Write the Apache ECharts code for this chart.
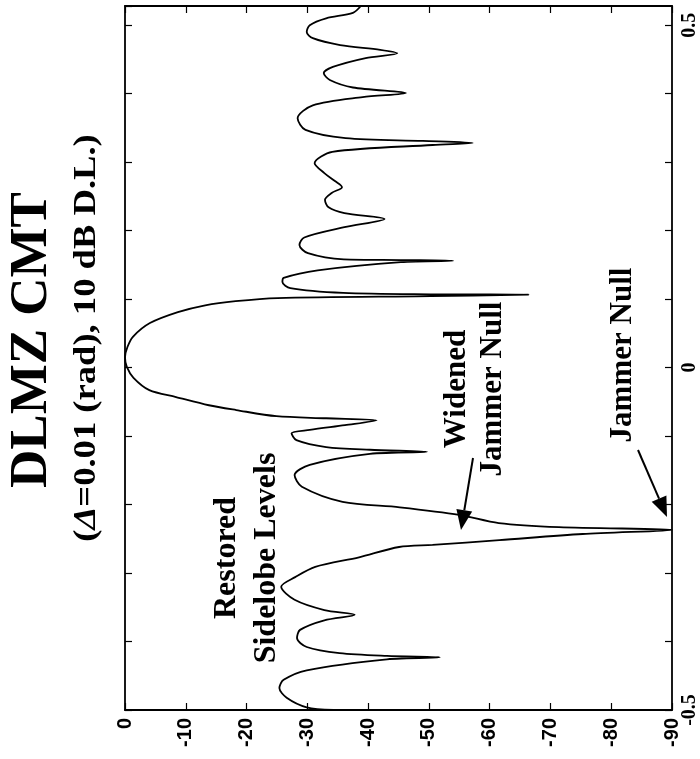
<!DOCTYPE html>
<html><head><meta charset="utf-8">
<script src="https://cdn.jsdelivr.net/npm/echarts/dist/echarts.min.js"></script>
<style>html,body{margin:0;padding:0;background:#fff}#c{width:700px;height:759px}</style>
</head><body><div id="c"></div>
<script>
// sin(angle) values (u) and pattern level (dB)
const uValues = [0.528,0.518,0.510,0.500,0.490,0.481,0.471,0.464,0.459,0.452,0.439,0.430,0.420,0.409,0.401,0.395,0.383,0.364,0.347,0.335,0.331,0.328,0.325,0.315,0.2985,0.284,0.272,0.2635,0.255,0.245,0.234,0.2255,0.217,0.205,0.190,0.179,0.167,0.158,0.157,0.156,0.154,0.142,0.131,0.125,0.116,0.109,0.107,0.1066,0.1044,0.1015,0.097,0.091,0.081,0.065,0.045,0.030,0.015,0.001,-0.015,-0.033,-0.043,-0.055,-0.062,-0.071,-0.074,-0.077,-0.084,-0.091,-0.096,-0.106,-0.116,-0.120,-0.123,-0.126,-0.142,-0.157,-0.174,-0.196,-0.204,-0.215,-0.227,-0.233,-0.237,-0.243,-0.252,-0.259,-0.262,-0.277,-0.291,-0.306,-0.320,-0.339,-0.354,-0.361,-0.369,-0.383,-0.395,-0.408,-0.417,-0.421,-0.423,-0.426,-0.442,-0.456,-0.468,-0.482,-0.496,-0.500];
const dbValues = [-38.8,-37.5,-33.1,-30.4,-29.9,-30.9,-35.4,-42.0,-44.8,-39.6,-34.2,-32.7,-33.7,-37.5,-46.2,-39.1,-30.9,-28.4,-29.7,-36.3,-49.0,-57.2,-50.6,-34.1,-31.2,-32.8,-34.6,-35.7,-34.0,-32.9,-33.5,-36.1,-42.7,-36.1,-29.5,-28.7,-30.1,-36.0,-45.4,-54.0,-45.4,-31.7,-26.1,-25.9,-27.2,-35.9,-50.3,-66.4,-50.3,-25.1,-18.2,-13.2,-8.7,-4.1,-1.3,-0.4,0,-0.3,-1.4,-4.0,-8.4,-13.8,-18.3,-24.9,-33.1,-41.4,-36.2,-30.4,-27.4,-28.2,-33.1,-40.3,-49.7,-40.3,-30.4,-27.9,-29.1,-35.8,-45.2,-55.0,-61.5,-71.4,-90,-75.3,-61.6,-50.6,-45.1,-38.5,-31.3,-28.0,-25.7,-27.9,-32.8,-37.8,-32.8,-28.8,-28.3,-29.9,-35.3,-43.1,-51.8,-43.1,-29.9,-26.1,-25.4,-26.6,-29.9,-34.3];
// tick labels
const dbTickValues = [0,-10,-20,-30,-40,-50,-60,-70,-80,-90];
const dbTickLabels = ['0','-10','-20','-30','-40','-50','-60','-70','-80','-90'];
const uTickValues = [-0.5,0,0.5];
const uTickLabels = ['-0.5','0','0.5'];
// texts
const titleText = 'DLMZ CMT';
const subtitleText = '({d|Δ}=0.01 (rad), 10 dB D.L.)';
const noteRestored = 'Restored\nSidelobe Levels';
const noteWidened = 'Widened\nJammer Null';
const noteJammer = 'Jammer Null';

function labelFor(values, labels, v){
  for (let i=0;i<values.length;i++) if (Math.abs(values[i]-v)<1e-6) return labels[i];
  return '';
}

const chart = echarts.init(document.getElementById('c'), null, {renderer:'canvas'});
const data = uValues.map((u,i)=>[dbValues[i], u]);
const lineS = {color:'#000', width:1.8};
const tickS = {show:true, inside:true, length:7, lineStyle:{color:'#000', width:1.2}};

function arrow(tail, tip){
  const dx=tip[0]-tail[0], dy=tip[1]-tail[1], L=Math.hypot(dx,dy);
  const ux=dx/L, uy=dy/L, hl=20, hw=8;
  const bx=tip[0]-ux*hl, by=tip[1]-uy*hl;
  return [
    {type:'line', shape:{x1:tail[0],y1:tail[1],x2:bx,y2:by}, style:{stroke:'#000', lineWidth:2}},
    {type:'polygon', shape:{points:[tip,[bx-uy*hw,by+ux*hw],[bx+uy*hw,by-ux*hw]]}, style:{fill:'#000'}}
  ];
}
function rotText(x,y,text,size,lh,extra,stretch){
  const st = Object.assign({text:text, fill:'#000', fontFamily:'Liberation Serif', fontWeight:'bold', fontSize:size,
    lineHeight:lh, align:'center', verticalAlign:'middle', textAlign:'center', textVerticalAlign:'middle'}, extra||{});
  return {type:'text', x:x, y:y, rotation:Math.PI/2, scaleX:stretch||1, scaleY:1, style:st, z:10};
}

const option = {
  animation:false,
  backgroundColor:'#fff',
  grid:{left:125, right:27, top:6, bottom:49, containLabel:false},
  xAxis:[
    {type:'value', min:-90, max:0, interval:10, inverse:true, position:'bottom',
     axisLine:{show:true, onZero:false, lineStyle:lineS}, axisTick:tickS, splitLine:{show:false},
     axisLabel:{rotate:90, margin:8, color:'#000', fontFamily:'Liberation Sans', fontWeight:'bold', fontSize:20,
       showMinLabel:true, showMaxLabel:true, formatter:v=>labelFor(dbTickValues,dbTickLabels,v)}},
    {type:'value', min:-90, max:0, interval:10, inverse:true, position:'top',
     axisLine:{show:true, onZero:false, lineStyle:lineS}, axisTick:tickS, splitLine:{show:false}, axisLabel:{show:false}}
  ],
  yAxis:[
    {type:'value', min:-0.5, max:0.528, interval:0.1, position:'right',
     axisLine:{show:true, onZero:false, lineStyle:lineS}, axisTick:tickS, splitLine:{show:false},
     axisLabel:{rotate:90, margin:8, color:'#000', fontFamily:'Liberation Serif', fontWeight:'bold', fontSize:20,
       showMinLabel:true, showMaxLabel:false, formatter:v=>labelFor(uTickValues,uTickLabels,v)}},
    {type:'value', min:-0.5, max:0.528, interval:0.1, position:'left',
     axisLine:{show:true, onZero:false, lineStyle:lineS}, axisTick:tickS, splitLine:{show:false}, axisLabel:{show:false}}
  ],
  series:[{type:'line', data:data, xAxisIndex:0, yAxisIndex:0, showSymbol:false, smooth:0.3,
    lineStyle:{color:'#000', width:1.8}, clip:true}],
  graphic:[
    rotText(32,340,titleText,53,60),
    rotText(87,338,subtitleText,31,36,{rich:{d:{fontStyle:'italic', fontWeight:'bold', fontFamily:'Liberation Serif', fontSize:31, fill:'#000'}}},1.18),
    rotText(247,558,noteRestored,32,40),
    rotText(475,389,noteWidened,31,36),
    rotText(623,355,noteJammer,31,36),
    ...arrow([473,458],[461,530]),
    ...arrow([638,450],[667,517])
  ]
};
chart.setOption(option);
</script></body></html>
